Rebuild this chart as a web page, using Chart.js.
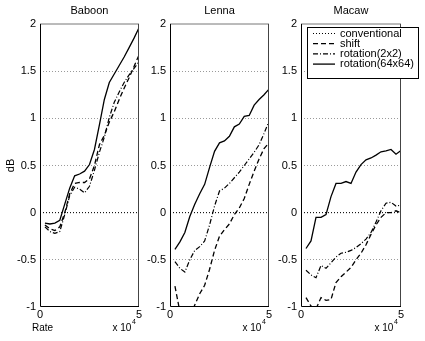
<!DOCTYPE html>
<html lang="en">
<head>
  <meta charset="UTF-8"/>
  <title>Rate vs dB</title>
  <style>
    body { margin: 0; background: #fff; width: 425px; height: 341px; position: relative; overflow: hidden; }
    canvas { position: absolute; top: 0; }
  </style>
</head>
<body>
  <canvas id="baboon" width="147" height="341" style="left:0"></canvas>
  <canvas id="lenna" width="147" height="341" style="left:130px"></canvas>
  <canvas id="macaw" width="164" height="341" style="left:261px"></canvas>
  <script src="https://cdn.jsdelivr.net/npm/chart.js"></script>
  <script>
    // rate in units of 1e4
    const rate = [0.25, 0.5, 0.75, 1, 1.25, 1.5, 1.75, 2, 2.25, 2.5, 2.75, 3, 3.25, 3.5, 3.75, 4, 4.25, 4.5, 4.75, 5]
    const convRate = [0, 5]
    const conventional = [0, 0]

    const baboonShift = [-0.13, -0.17, -0.19, -0.15, 0.0, 0.2, 0.31, 0.32, 0.32, 0.36, 0.5, 0.72, 0.82, 0.96, 1.07, 1.2, 1.32, 1.43, 1.55, 1.67]
    const baboonRot2 = [-0.15, -0.2, -0.22, -0.2, -0.02, 0.18, 0.27, 0.25, 0.21, 0.28, 0.45, 0.64, 0.8, 1.01, 1.17, 1.28, 1.38, 1.46, 1.53, 1.6]
    const baboonRot64 = [-0.11, -0.12, -0.11, -0.08, 0.09, 0.26, 0.39, 0.41, 0.44, 0.51, 0.67, 0.93, 1.2, 1.38, 1.47, 1.56, 1.65, 1.75, 1.85, 1.96]

    const lennaShift = [-0.78, -1.05, -1.12, -1.1, -0.98, -0.86, -0.77, -0.6, -0.4, -0.25, -0.18, -0.12, -0.02, 0.05, 0.15, 0.3, 0.44, 0.57, 0.68, 0.74]
    const lennaRot2 = [-0.52, -0.59, -0.63, -0.5, -0.4, -0.36, -0.3, -0.13, 0.07, 0.23, 0.26, 0.31, 0.37, 0.43, 0.5, 0.57, 0.64, 0.72, 0.84, 0.97]
    const lennaRot64 = [-0.39, -0.31, -0.21, -0.04, 0.09, 0.2, 0.3, 0.48, 0.65, 0.74, 0.76, 0.81, 0.91, 0.94, 1.02, 1.03, 1.14, 1.2, 1.25, 1.31]

    const macawShift = [-0.9, -0.99, -1.02, -0.9, -0.93, -0.92, -0.74, -0.68, -0.63, -0.58, -0.5, -0.43, -0.34, -0.23, -0.13, -0.05, 0.0, 0.0, 0.02, 0.0]
    const macawRot2 = [-0.61, -0.66, -0.69, -0.56, -0.59, -0.53, -0.47, -0.43, -0.42, -0.4, -0.37, -0.33, -0.28, -0.21, -0.1, 0.02, 0.1, 0.11, 0.07, 0.08]
    const macawRot64 = [-0.38, -0.3, -0.05, -0.05, -0.02, 0.17, 0.31, 0.31, 0.33, 0.31, 0.43, 0.51, 0.56, 0.58, 0.61, 0.645, 0.655, 0.67, 0.62, 0.66]

    Chart.defaults.font.family = '"Liberation Sans", Arial, Helvetica, sans-serif'
    Chart.defaults.font.size = 11
    Chart.defaults.color = '#000'
    Chart.defaults.animation = false

    const pts = (xs, ys) => xs.map((x, i) => ({ x, y: ys[i] }))

    // frame, extra labels and the boxed legend
    const extras = {
      id: 'extras',
      afterDraw (chart, args, opts) {
        const { ctx, chartArea: a } = chart
        ctx.save()
        ctx.lineWidth = 1
        ctx.strokeStyle = '#777'
        ctx.beginPath()
        ctx.moveTo(a.left, a.top)
        ctx.lineTo(a.right, a.top)
        ctx.stroke()
        ctx.strokeStyle = '#444'
        ctx.beginPath()
        ctx.moveTo(a.right - 0.5, a.top)
        ctx.lineTo(a.right - 0.5, a.bottom)
        ctx.stroke()
        ctx.strokeStyle = '#000'
        ctx.beginPath()
        ctx.moveTo(a.left + 0.5, a.top)
        ctx.lineTo(a.left + 0.5, a.bottom - 0.5)
        ctx.lineTo(a.right, a.bottom - 0.5)
        ctx.stroke()

        ctx.fillStyle = '#000'
        ctx.textBaseline = 'alphabetic'
        ctx.textAlign = 'left'
        ctx.font = '10px "Liberation Sans", Arial, sans-serif'
        const ex = a.right - 26.5
        ctx.fillText('x 10', ex, 331)
        ctx.font = '7px "Liberation Sans", Arial, sans-serif'
        ctx.fillText('4', ex + 19.5, 324)
        if (opts.rate) {
          ctx.font = '10px "Liberation Sans", Arial, sans-serif'
          ctx.fillText('Rate', 32, 331)
        }

        if (opts.legend) {
          const L = opts.legend
          ctx.fillStyle = '#fff'
          ctx.fillRect(L.x, L.y, L.w, L.h)
          ctx.strokeStyle = '#000'
          ctx.strokeRect(L.x + 0.5, L.y + 0.5, L.w, L.h)
          ctx.font = '11px "Liberation Sans", Arial, sans-serif'
          ctx.textBaseline = 'middle'
          chart.data.datasets.forEach((ds, i) => {
            const yy = L.y + 6.5 + i * 10.2
            ctx.strokeStyle = '#000'
            ctx.lineWidth = ds.borderWidth
            ctx.setLineDash(ds.borderDash)
            ctx.beginPath()
            ctx.moveTo(L.x + 6, yy)
            ctx.lineTo(L.x + 28, yy)
            ctx.stroke()
            ctx.setLineDash([])
            ctx.fillStyle = '#000'
            ctx.fillText(ds.label, L.x + 33, yy)
          })
        }
        ctx.restore()
      }
    }

    function makeChart (id, title, shift, rot2, rot64, padRight, extra, showDb) {
      return new Chart(document.getElementById(id), {
        type: 'line',
        data: {
          datasets: [
            { label: 'conventional', data: pts(convRate, conventional), borderDash: [1, 2], borderWidth: 1 },
            { label: 'shift', data: pts(rate, shift), borderDash: [5, 3], borderWidth: 1.3 },
            { label: 'rotation(2x2)', data: pts(rate, rot2), borderDash: [5, 2, 1, 2], borderWidth: 1.2 },
            { label: 'rotation(64x64)', data: pts(rate, rot64), borderDash: [], borderWidth: 1.3 }
          ]
        },
        options: {
          responsive: false,
          layout: { padding: { top: 0, right: padRight, bottom: 0, left: 0 } },
          elements: {
            point: { radius: 0 },
            line: { borderColor: '#000', tension: 0, fill: false }
          },
          scales: {
            x: {
              type: 'linear', min: 0, max: 5,
              ticks: { stepSize: 5, padding: 1, maxRotation: 0 },
              grid: { display: false, drawTicks: false },
              border: { display: false },
              afterFit: s => { s.height = 34 }
            },
            y: {
              min: -1, max: 2,
              ticks: { stepSize: 0.5, padding: 4, callback: v => String(v) },
              grid: {
                drawTicks: false,
                lineWidth: 1,
                color: c => (c.tick && (c.tick.value === 2 || c.tick.value === -1)) ? 'rgba(0,0,0,0)' : '#9a9a9a'
              },
              border: { display: false, dash: [1, 2] },
              title: { display: showDb, text: 'dB', padding: { top: 4, bottom: 0 } },
              afterFit: s => { s.width = 40 }
            }
          },
          plugins: {
            legend: { display: false },
            tooltip: { enabled: false },
            title: {
              display: true, text: title, fullSize: false,
              font: { size: 11, weight: 'normal' },
              padding: { top: 4, bottom: 6.8 }
            },
            extras: extra
          }
        },
        plugins: [extras]
      })
    }

    makeChart('baboon', 'Baboon', baboonShift, baboonRot2, baboonRot64, 8, { rate: true }, true)
    makeChart('lenna', 'Lenna', lennaShift, lennaRot2, lennaRot64, 8, {}, false)
    makeChart('macaw', 'Macaw', macawShift, macawRot2, macawRot64, 24, { legend: { x: 46, y: 27, w: 111, h: 51 } }, false)
  </script>
</body>
</html>
